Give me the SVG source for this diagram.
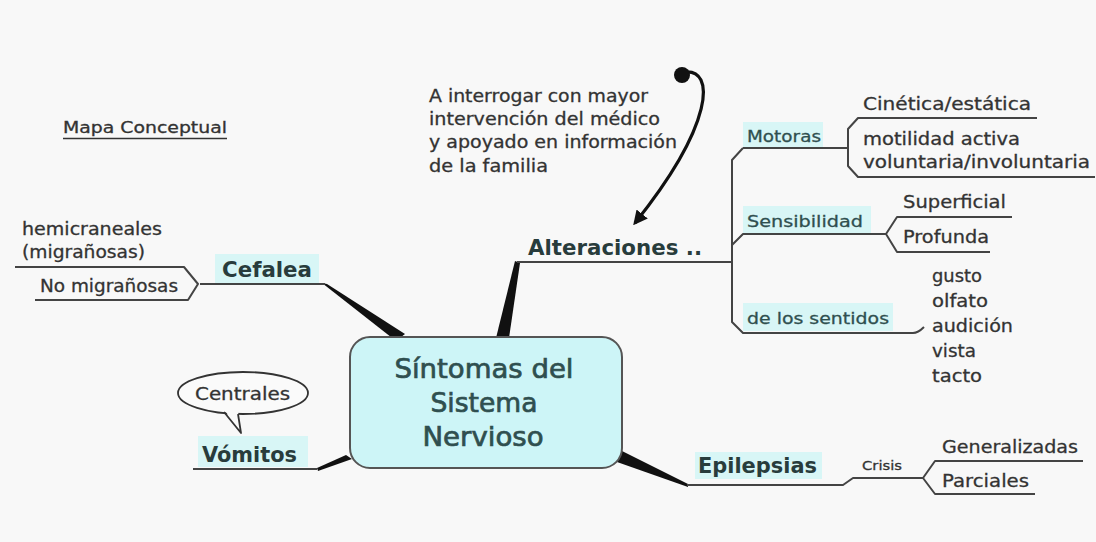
<svg xmlns="http://www.w3.org/2000/svg" width="1096" height="542" viewBox="0 0 1096 542">
<defs>
<style>
text{font-family:"DejaVu Sans","Liberation Sans",sans-serif;fill:#333;stroke:#333;stroke-width:0.3;}
.t17{font-size:17px;}
.t18{font-size:18px;}
.lbl{font-size:16.5px;fill:#2f4f4f;stroke:#2f4f4f;}
.big{font-size:22px;font-weight:bold;fill:#283c3c;stroke:none;}
.ctr{font-size:27px;fill:#2f4f4f;stroke:#2f4f4f;stroke-width:0.7;text-anchor:middle;}
.ln{fill:none;stroke:#444;stroke-width:2;stroke-linejoin:round;}
.wedge{fill:#111;}
.hl{fill:#d8f6f6;}
</style>
<marker id="ah" viewBox="0 0 10 10" refX="8" refY="5" markerWidth="4.5" markerHeight="4.5" orient="auto">
<path d="M0,0 L10,5 L0,10 z" fill="#111"/>
</marker>
</defs>
<rect width="1096" height="542" fill="#f8f8f8"/>

<g id="title">
<text x="63" y="133" style="font-size:15px" textLength="164" lengthAdjust="spacingAndGlyphs">Mapa Conceptual</text>
<line x1="63" y1="138.5" x2="227" y2="138.5" stroke="#333" stroke-width="1.5"/>
</g>

<g id="connectors">
<polygon class="wedge" points="322,283 327,284 405,334 396,341"/>
<polygon class="wedge" points="515,261 520,263 509,338 496,338"/>
<polygon class="wedge" points="622,451 688,484 688,487 617,462"/>
<polygon class="wedge" points="317,468 346,455 352,459 318,471"/>
<path class="ln" d="M200,284 H325"/>
<path class="ln" d="M15,267 H184 L198,284 L188,300 H35"/>
<path class="ln" d="M517,262 H731"/>
<path class="ln" d="M743,148 L732,160 V322 L743,333 H913 Q918,333 924,327"/>
<path class="ln" d="M732,245 L743,234 H886"/>
<path class="ln" d="M743,148 H848"/>
<path class="ln" d="M1037,118 H858 L848,129 V166 L858,177 H1095"/>
<path class="ln" d="M1012,217 H897 L886,234 L897,252 H990"/>
<path class="ln" d="M193,469 H317"/>
<path class="ln" d="M687,485 H843 L853,478 H923"/>
<path class="ln" d="M1083,461 H935 L923,478 L935,494 H1035"/>
<path d="M684,72 C716,68 714,124 635,223" fill="none" stroke="#111" stroke-width="3.2" marker-end="url(#ah)"/>
<circle cx="682" cy="75" r="8" fill="#111"/>
</g>

<g id="central">
<rect x="350" y="337" width="272" height="131" rx="20" fill="#cdf5f7" stroke="#555" stroke-width="2"/>
<text class="ctr" x="484" y="378" textLength="179" lengthAdjust="spacingAndGlyphs">Síntomas del</text>
<text class="ctr" x="484" y="412" textLength="107" lengthAdjust="spacingAndGlyphs">Sistema</text>
<text class="ctr" x="483" y="446" textLength="121" lengthAdjust="spacingAndGlyphs">Nervioso</text>
</g>

<g id="cefalea">
<rect class="hl" x="215" y="254" width="104" height="29"/>
<text class="big" x="222" y="277" textLength="90" lengthAdjust="spacingAndGlyphs">Cefalea</text>
</g>
<g id="hemicraneales">
<text class="t17" x="22" y="235" textLength="140" lengthAdjust="spacingAndGlyphs">hemicraneales</text>
<text class="t17" x="22" y="258" textLength="123" lengthAdjust="spacingAndGlyphs">(migrañosas)</text>
</g>
<g id="no-migranosas">
<text class="t17" x="40" y="292" textLength="138" lengthAdjust="spacingAndGlyphs">No migrañosas</text>
</g>

<g id="vomitos">
<rect class="hl" x="198" y="436" width="110" height="31"/>
<text class="big" x="202" y="462" textLength="95" lengthAdjust="spacingAndGlyphs">Vómitos</text>
</g>
<g id="centrales">
<ellipse cx="243" cy="393" rx="65" ry="21" fill="#fafafa" stroke="#333" stroke-width="1.8"/>
<polygon points="225,411 238,411 241,431" fill="#fafafa"/>
<path d="M224,412 L241,433 L238,414" fill="none" stroke="#333" stroke-width="1.8" stroke-linejoin="round"/>
<text class="t17" x="195" y="400" textLength="95" lengthAdjust="spacingAndGlyphs">Centrales</text>
</g>

<g id="epilepsias">
<rect class="hl" x="695" y="452" width="127" height="27"/>
<text class="big" x="698" y="473" textLength="119" lengthAdjust="spacingAndGlyphs">Epilepsias</text>
</g>
<g id="crisis">
<text x="862" y="470" style="font-size:13px" textLength="40" lengthAdjust="spacingAndGlyphs">Crisis</text>
</g>
<g id="generalizadas">
<text class="t18" x="942" y="453" textLength="136" lengthAdjust="spacingAndGlyphs">Generalizadas</text>
</g>
<g id="parciales">
<text class="t18" x="942" y="487" textLength="87" lengthAdjust="spacingAndGlyphs">Parciales</text>
</g>

<g id="annotation">
<text class="t17" x="429" y="102" textLength="219" lengthAdjust="spacingAndGlyphs">A interrogar con mayor</text>
<text class="t17" x="429" y="125" textLength="231" lengthAdjust="spacingAndGlyphs">intervención del médico</text>
<text class="t17" x="429" y="148" textLength="248" lengthAdjust="spacingAndGlyphs">y apoyado en información</text>
<text class="t17" x="429" y="172" textLength="119" lengthAdjust="spacingAndGlyphs">de la familia</text>
</g>

<g id="alteraciones">
<text class="big" x="528" y="255" textLength="174" lengthAdjust="spacingAndGlyphs">Alteraciones ..</text>
</g>

<g id="motoras">
<rect class="hl" x="743" y="122" width="80" height="25"/>
<text class="lbl" x="747" y="142" textLength="74" lengthAdjust="spacingAndGlyphs">Motoras</text>
</g>
<g id="cinetica">
<text class="t17" x="863" y="110" textLength="168" lengthAdjust="spacingAndGlyphs">Cinética/estática</text>
</g>
<g id="motilidad">
<text class="t17" x="863" y="145" textLength="157" lengthAdjust="spacingAndGlyphs">motilidad activa</text>
<text class="t17" x="863" y="168" textLength="227" lengthAdjust="spacingAndGlyphs">voluntaria/involuntaria</text>
</g>

<g id="sensibilidad">
<rect class="hl" x="743" y="206" width="128" height="27"/>
<text class="lbl" x="747" y="227" textLength="116" lengthAdjust="spacingAndGlyphs">Sensibilidad</text>
</g>
<g id="superficial">
<text class="t18" x="903" y="208" textLength="103" lengthAdjust="spacingAndGlyphs">Superficial</text>
</g>
<g id="profunda">
<text class="t18" x="903" y="243" textLength="86" lengthAdjust="spacingAndGlyphs">Profunda</text>
</g>

<g id="sentidos">
<rect class="hl" x="743" y="303" width="150" height="28"/>
<text class="lbl" x="747" y="324" textLength="142" lengthAdjust="spacingAndGlyphs">de los sentidos</text>
</g>
<g id="sentidos-lista">
<text class="t18" x="932" y="282" textLength="50" lengthAdjust="spacingAndGlyphs">gusto</text>
<text class="t18" x="932" y="307" textLength="56" lengthAdjust="spacingAndGlyphs">olfato</text>
<text class="t18" x="932" y="332" textLength="81" lengthAdjust="spacingAndGlyphs">audición</text>
<text class="t18" x="932" y="357" textLength="44" lengthAdjust="spacingAndGlyphs">vista</text>
<text class="t18" x="932" y="382" textLength="50" lengthAdjust="spacingAndGlyphs">tacto</text>
</g>
</svg>
